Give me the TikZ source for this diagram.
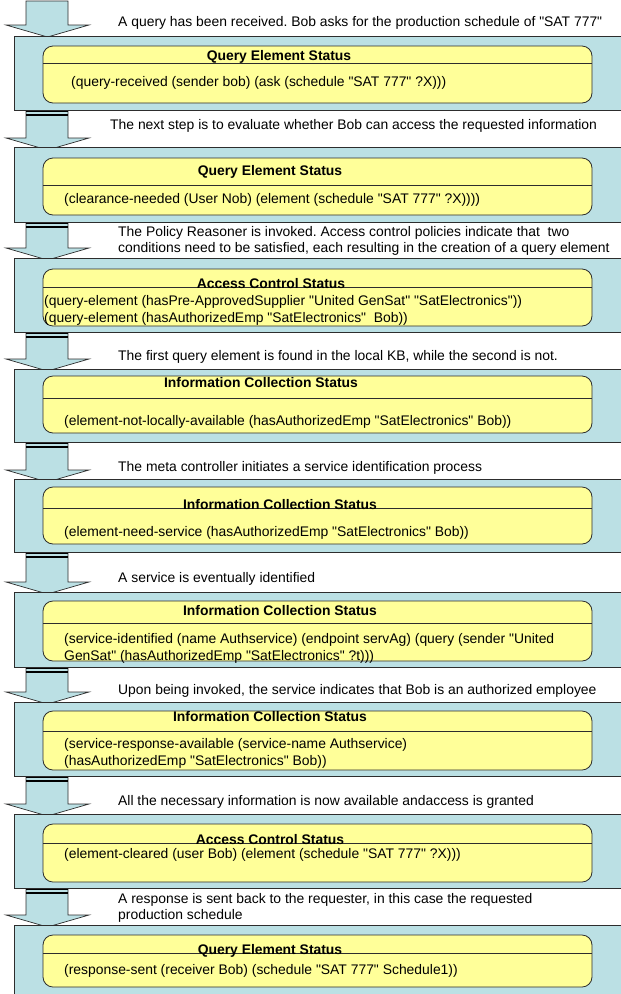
\documentclass[tikz,border=0pt]{standalone}
\usepackage{fontspec}
\setmainfont{Liberation Sans}[Ligatures=TeXOff]
\frenchspacing
\definecolor{barblue}{RGB}{187,224,228}
\definecolor{yel}{RGB}{255,255,153}
\definecolor{edgec}{RGB}{45,45,45}
\tikzset{
  barstyle/.style={fill=barblue, draw=edgec, line width=0.8pt},
  arrowbody/.style={fill=barblue, draw=edgec, line width=0.7pt},
  ystyle/.style={fill=yel, draw=edgec, line width=0.8pt, rounded corners=10pt},
  hline/.style={draw=edgec, line width=0.8pt},
  hdr/.style={font=\bfseries\fontsize{13.9}{16}\selectfont, anchor=base, inner sep=0pt},
  body/.style={font=\fontsize{13.9}{16}\selectfont, anchor=base west, inner sep=0pt},
  note/.style={font=\fontsize{13.9}{16}\selectfont, anchor=base west, inner sep=0pt},
}
\newcommand\blockarrow[2]{%
  \path[arrowbody] (26,#1) -- (26,#2) -- (6,#2) -- (47.5,#2+12) -- (89,#2) -- (68,#2) -- (68,#1);
  \draw[black, line width=1.3pt] (26,#1+1.5) -- (68,#1+1.5);
  \draw[black, line width=1.7pt] (26,#1+5) -- (68,#1+5);
}
\newcommand\panelbox[5]{%
  \path[barstyle] (14,#1) rectangle (700,#2);
  \path[ystyle] (43,#3) rectangle (592,#4);
  \draw[hline] (43,#5) -- (592,#5);
}
\begin{document}
\begin{tikzpicture}[x=1pt,y=-1pt]
\clip (0,0) rectangle (621,994);
% first arrow
\path[arrowbody] (26,1) -- (26,25) -- (6,25) -- (47.5,37) -- (89,25) -- (68,25) -- (68,1) -- cycle;
\blockarrow{110}{138}
\blockarrow{222}{248}
\blockarrow{332}{359}
\blockarrow{442}{470}
\blockarrow{552}{582}
\blockarrow{667}{692}
\blockarrow{776}{804}
\blockarrow{888}{915}

% panels
\panelbox{36}{110}{46}{103}{63}
\panelbox{147}{222}{158}{215}{185}
\panelbox{258}{332}{269}{326}{287}
\panelbox{369}{442}{376}{433}{398}
\panelbox{479}{552}{487}{544}{508}
\panelbox{592}{667}{601}{661}{623}
\panelbox{702}{776}{711}{770}{731}
\panelbox{814}{888}{824}{882}{843}
\panelbox{925}{1010}{935}{987}{953}

% notes
\node[note] (n1) at (118,26.5) {A query has been received. Bob asks for the production schedule of "SAT 777"};
\node[note] (n2) at (110,129) {The next step is to evaluate whether Bob can access the requested information};
\node[note] (n3a) at (118,236) {The Policy Reasoner is invoked. Access control policies indicate that~ two};
\node[note] (n3b) at (118,252) {conditions need to be satisfied, each resulting in the creation of a query element};
\node[note] (n4) at (118,360) {The first query element is found in the local KB, while the second is not.};
\node[note] (n5) at (118,471) {The meta controller initiates a service identification process};
\node[note] (n6) at (118,582) {A service is eventually identified};
\node[note] (n7) at (118,694) {Upon being invoked, the service indicates that Bob is an authorized employee};
\node[note] (n8) at (118,805) {All the necessary information is now available andaccess is granted};
\node[note] (n9a) at (118,903) {A response is sent back to the requester, in this case the requested};
\node[note] (n9b) at (118,919) {production schedule};

% headers
\node[hdr] (h1) at (279,60.5) {Query Element Status};
\node[hdr] (h2) at (270,175) {Query Element Status};
\node[hdr] (h3) at (271,288) {Access Control Status};
\node[hdr] (h4) at (261,387) {Information Collection Status};
\node[hdr] (h5) at (280,509) {Information Collection Status};
\node[hdr] (h6) at (280,615) {Information Collection Status};
\node[hdr] (h7) at (270,721) {Information Collection Status};
\node[hdr] (h8) at (270,844) {Access Control Status};
\node[hdr] (h9) at (270,954) {Query Element Status};

% bodies
\node[body] (b1) at (71,86) {(query-received (sender bob) (ask (schedule "SAT 777" ?X)))};
\node[body] (b2) at (64,203) {(clearance-needed (User Nob) (element (schedule "SAT 777" ?X))))};
\node[body] (b3a) at (44,305) {(query-element (hasPre-ApprovedSupplier "United GenSat" "SatElectronics"))};
\node[body] (b3b) at (44,322) {(query-element (hasAuthorizedEmp "SatElectronics"~ Bob))};
\node[body] (b4) at (64,425) {(element-not-locally-available (hasAuthorizedEmp "SatElectronics" Bob))};
\node[body] (b5) at (64,536) {(element-need-service (hasAuthorizedEmp "SatElectronics" Bob))};
\node[body] (b6a) at (64,643) {(service-identified (name Authservice) (endpoint servAg) (query (sender "United};
\node[body] (b6b) at (64,660) {GenSat" (hasAuthorizedEmp "SatElectronics" ?t)))};
\node[body] (b7a) at (64,748) {(service-response-available (service-name Authservice)};
\node[body] (b7b) at (64,765) {(hasAuthorizedEmp "SatElectronics" Bob))};
\node[body] (b8) at (64,858) {(element-cleared (user Bob) (element (schedule "SAT 777" ?X)))};
\node[body] (b9) at (64,974) {(response-sent (receiver Bob) (schedule "SAT 777" Schedule1))};
\end{tikzpicture}
\end{document}
